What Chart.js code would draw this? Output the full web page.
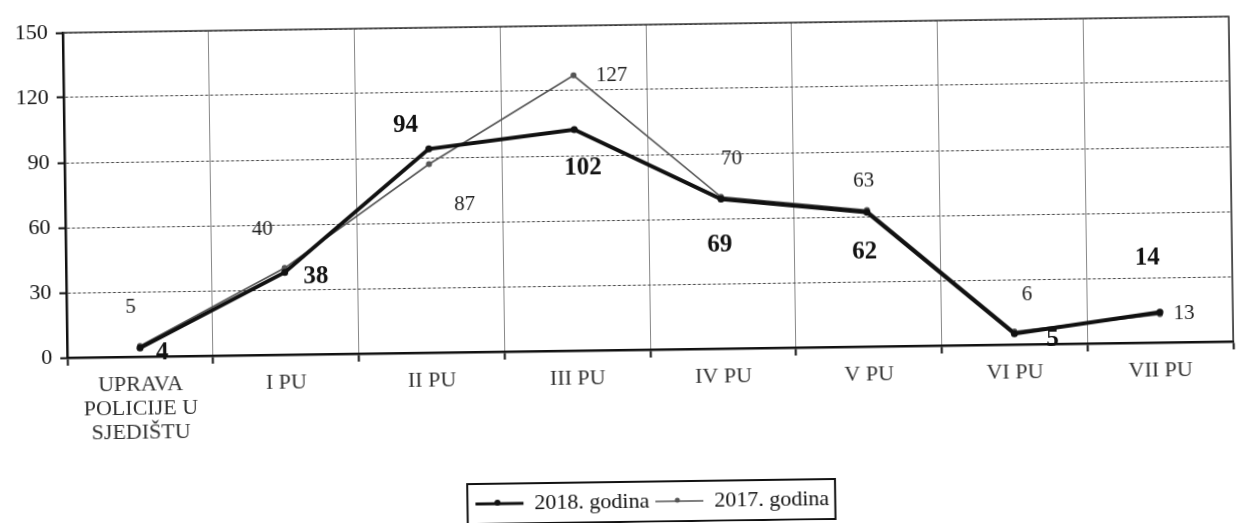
<!DOCTYPE html>
<html>
<head>
<meta charset="utf-8">
<script src="https://cdn.jsdelivr.net/npm/chart.js@4"></script>
<style>
  html, body { margin: 0; padding: 0; background: #fff; overflow: hidden; }
  #wrap { width: 1236px; height: 523px; transform: rotate(-0.8deg); transform-origin: 618px 261px; }
</style>
</head>
<body>
<div id="wrap"><canvas id="chart" width="1236" height="523"></canvas></div>
<script>
// data
var categories = [['UPRAVA', 'POLICIJE U', 'SJEDIŠTU'], 'I PU', 'II PU', 'III PU', 'IV PU', 'V PU', 'VI PU', 'VII PU'];
var values2018 = [4, 38, 94, 102, 69, 62, 5, 14];
var values2017 = [5, 40, 87, 127, 70, 63, 6, 13];
var yTicks = [0, 30, 60, 90, 120, 150];
var seriesNames = ['2018. godina', '2017. godina'];

var serif = '"Liberation Serif", "Times New Roman", serif';
var lineColors = ['#111', '#555'];
var lineWidths = [4, 1.6];

// where each value label sits relative to its point (px)
var labelShift = [
	[[22, 5], [31, 5], [-23, -24], [8, 39], [-2, 46], [-3, 40], [38, 6], [-12, -54]],
	[[-9, -39], [-22, -39], [35, 41], [38, 1], [11, -38], [-3, -29], [13, -37], [24, 0]]
];

var valueLabels = {
	id: 'valueLabels',
	afterDatasetsDraw: function(chart) {
		var ctx = chart.ctx;
		ctx.save();
		ctx.textAlign = 'center';
		ctx.textBaseline = 'middle';
		chart.data.datasets.forEach(function(ds, d) {
			var meta = chart.getDatasetMeta(d);
			ctx.font = d == 0 ? 'bold 25px ' + serif : '21px ' + serif;
			ctx.fillStyle = d == 0 ? '#111' : '#222';
			meta.data.forEach(function(pt, i) {
				ctx.fillText(ds.data[i], pt.x + labelShift[d][i][0], pt.y + labelShift[d][i][1]);
			});
		});
		ctx.restore();
	}
};

var frame = {
	id: 'frame',
	afterDraw: function(chart) {
		var a = chart.chartArea;
		var ctx = chart.ctx;
		ctx.save();
		// top and right border
		ctx.strokeStyle = '#333';
		ctx.lineWidth = 1.5;
		ctx.beginPath();
		ctx.moveTo(a.left, a.top);
		ctx.lineTo(a.right, a.top);
		ctx.lineTo(a.right, a.bottom);
		ctx.stroke();
		// legend box + small markers on the samples
		var hb = chart.legend.legendHitBoxes;
		if (hb && hb.length) {
			var first = hb[0], last = hb[hb.length - 1];
			var cy = first.top + first.height / 2;
			ctx.strokeStyle = '#111';
			ctx.lineWidth = 2;
			ctx.strokeRect(first.left - 8, cy - 20, last.left + last.width - first.left + 14, 40);
			hb.forEach(function(b, i) {
				ctx.fillStyle = lineColors[i];
				ctx.beginPath();
				ctx.arc(b.left + 22, b.top + b.height / 2 - 1, i == 0 ? 3 : 2.5, 0, Math.PI * 2);
				ctx.fill();
			});
		}
		ctx.restore();
	}
};

new Chart(document.getElementById('chart'), {
	type: 'line',
	data: {
		labels: categories,
		datasets: [
			{
				label: seriesNames[0],
				data: values2018,
				borderColor: lineColors[0],
				backgroundColor: lineColors[0],
				borderWidth: lineWidths[0],
				pointRadius: 3.5,
				pointBackgroundColor: lineColors[0],
				pointBorderWidth: 0,
				tension: 0
			},
			{
				label: seriesNames[1],
				data: values2017,
				borderColor: lineColors[1],
				backgroundColor: lineColors[1],
				borderWidth: lineWidths[1],
				pointRadius: 3,
				pointBackgroundColor: lineColors[1],
				pointBorderWidth: 0,
				tension: 0
			}
		]
	},
	options: {
		responsive: false,
		animation: false,
		layout: { padding: { top: 25, right: 3, left: 0, bottom: 0 } },
		plugins: {
			tooltip: { enabled: false },
			legend: {
				position: 'bottom',
				fullSize: false,
				labels: {
					usePointStyle: true,
					pointStyleWidth: 48,
					padding: 6,
					color: '#111',
					font: { family: serif, size: 22 },
					generateLabels: function(chart) {
						var items = Chart.defaults.plugins.legend.labels.generateLabels(chart);
						items.forEach(function(it, i) {
							it.pointStyle = 'line';
							it.lineWidth = i == 0 ? 3 : 1.5;
							it.strokeStyle = lineColors[i];
							it.fillStyle = lineColors[i];
						});
						return items;
					}
				}
			}
		},
		scales: {
			x: {
				offset: true,
				grid: {
					offset: true,
					color: '#888',
					lineWidth: 1,
					drawTicks: true,
					tickLength: 8,
					tickColor: '#111',
					tickWidth: 2
				},
				border: { color: '#111', width: 2.5 },
				ticks: {
					color: '#333',
					padding: 8,
					maxRotation: 0,
					autoSkip: false,
					font: { family: serif, size: 22, lineHeight: 1.1 }
				},
				afterFit: function(scale) { scale.height = 135; }
			},
			y: {
				min: 0,
				max: 150,
				afterBuildTicks: function(scale) {
					scale.ticks = yTicks.map(function(v) { return { value: v }; });
				},
				grid: {
					color: '#444',
					lineWidth: 1,
					tickLength: 7,
					tickColor: '#111',
					tickWidth: 2,
					tickBorderDash: [],
					drawTicks: true
				},
				// in v4 border.dash sets the dash of the grid lines
				border: { color: '#111', width: 2.5, dash: [3, 2] },
				ticks: {
					color: '#111',
					padding: 8,
					font: { family: serif, size: 22 }
				},
				afterFit: function(scale) { scale.width = 66; }
			}
		}
	},
	plugins: [valueLabels, frame]
});
</script>
</body>
</html>
